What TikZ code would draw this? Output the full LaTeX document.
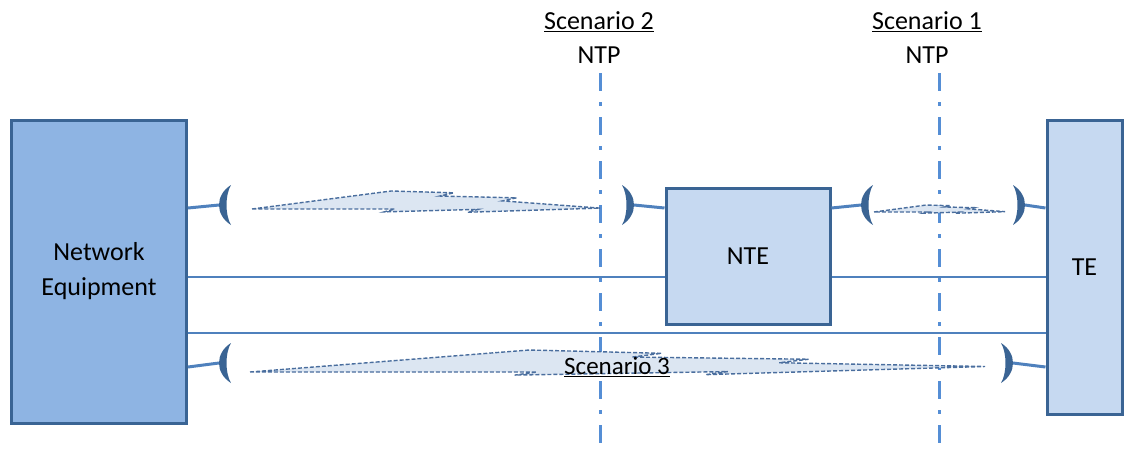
\documentclass[tikz,border=0pt]{standalone}
\usepackage{fontspec}
\setmainfont{Carlito}
\definecolor{nefill}{HTML}{8EB4E3}
\definecolor{ntefill}{HTML}{C6D9F1}
\definecolor{boxborder}{HTML}{3A6494}
\definecolor{linecol}{HTML}{4F81BD}
\definecolor{ntpcol}{HTML}{558ED5}
\definecolor{boltfill}{HTML}{DCE6F2}
\definecolor{boltdraw}{HTML}{4A6E9E}
\begin{document}
\begin{tikzpicture}[x=1pt,y=-1pt,
  font=\fontsize{26}{35}\selectfont,
  box/.style={draw=boxborder, line width=3pt, inner sep=0pt, text=black, align=center},
  wire/.style={draw=linecol, line width=2pt},
  stub/.style={draw=linecol, line width=3pt},
  ntpline/.style={draw=ntpcol, line width=3pt, dash pattern=on 18pt off 11pt on 4pt off 11pt},
  boltstyle/.style={fill=boltfill, draw=boltdraw, line width=1.4pt, dash pattern=on 4pt off 2pt},
  pics/lbr/.style={code={\fill[boxborder] (12,-20) .. controls (-4,-10) and (-4,10) .. (12,20) .. controls (6,10) and (6,-10) .. cycle;}},
  pics/rbr/.style={code={\fill[boxborder] (-12,-20) .. controls (4,-10) and (4,10) .. (-12,20) .. controls (-6,10) and (-6,-10) .. cycle;}}
]
\useasboundingbox (0,0) rectangle (1125,453);

% boxes
\node[box, fill=nefill, minimum width=175pt, minimum height=303pt] (NE) at (99,271.5) {Network\\Equipment};
\node[box, fill=ntefill, minimum width=164pt, minimum height=136pt] (NTE) at (748,256) {NTE};
\node[box, fill=ntefill, minimum width=75pt, minimum height=294pt] (TE) at (1084.5,267) {TE};

% labels
\node (s2) at (599,22) {\underline{Scenario 2}};
\node (ntp2) at (599,55) {NTP};
\node (s1) at (927,22) {\underline{Scenario 1}};
\node (ntp1) at (927,55) {NTP};

% NTP lines
\coordinate (v2top) at (600,73);
\coordinate (v2bot) at (600,453);
\coordinate (v1top) at (939,73);
\coordinate (v1bot) at (939,453);
\draw[ntpline] (v2top) -- (v2bot);
\draw[ntpline] (v1top) -- (v1bot);

% wires
\coordinate (h1) at (0,277);
\coordinate (h2) at (0,333);
\draw[wire] (NE.east |- h1) -- (NTE.west |- h1);
\draw[wire] (NTE.east |- h1) -- (TE.west |- h1);
\draw[wire] (NE.east |- h2) -- (TE.west |- h2);

% wireless links (bolts)
\begin{scope}[shift={(252,209)}, xscale=348, yscale=18]
\path[boltstyle] (0,0) -- (0.40,-1) -- (0.58,-0.9) -- (0.54,-0.72) -- (0.76,-0.62) -- (0.72,-0.45) -- (1,-0.05)
  -- (0.62,0.18) -- (0.65,0.02) -- (0.38,0.16) -- (0.41,0.0) -- cycle;
\end{scope}
\begin{scope}[shift={(874,212)}, xscale=131, yscale=7]
\path[boltstyle] (0,0) -- (0.40,-1) -- (0.58,-0.9) -- (0.54,-0.72) -- (0.76,-0.62) -- (0.72,-0.45) -- (1,-0.05)
  -- (0.62,0.18) -- (0.65,0.02) -- (0.38,0.16) -- (0.41,0.0) -- cycle;
\end{scope}
\begin{scope}[shift={(250,372)}, xscale=735, yscale=22]
\path[boltstyle] (0,0) -- (0.38,-1) -- (0.56,-0.85) -- (0.52,-0.68) -- (0.76,-0.58) -- (0.72,-0.42) -- (1,-0.25)
  -- (0.62,0.12) -- (0.65,-0.02) -- (0.36,0.14) -- (0.39,0.0) -- cycle;
\end{scope}
\node[font=\fontsize{25}{30}\selectfont] (s3) at (617,367) {\underline{Scenario 3}};

% bracket attach points
\coordinate (b1) at (219,205);
\coordinate (b2) at (634,205);
\coordinate (b3) at (861,205);
\coordinate (b4) at (1025,205);
\coordinate (b5) at (219,363);
\coordinate (b6) at (1013,363);
\coordinate (y1) at (0,208);
\coordinate (y2) at (0,367);

\draw[stub] (NE.east |- y1) -- (b1);
\draw[stub] (b2) -- (NTE.west |- y1);
\draw[stub] (NTE.east |- y1) -- (b3);
\draw[stub] (b4) -- (TE.west |- y1);
\draw[stub] (NE.east |- y2) -- (b5);
\draw[stub] (b6) -- (TE.west |- y2);

\pic at (b1) {lbr};
\pic at (b2) {rbr};
\pic at (b3) {lbr};
\pic at (b4) {rbr};
\pic at (b5) {lbr};
\pic at (b6) {rbr};
\end{tikzpicture}
\end{document}
